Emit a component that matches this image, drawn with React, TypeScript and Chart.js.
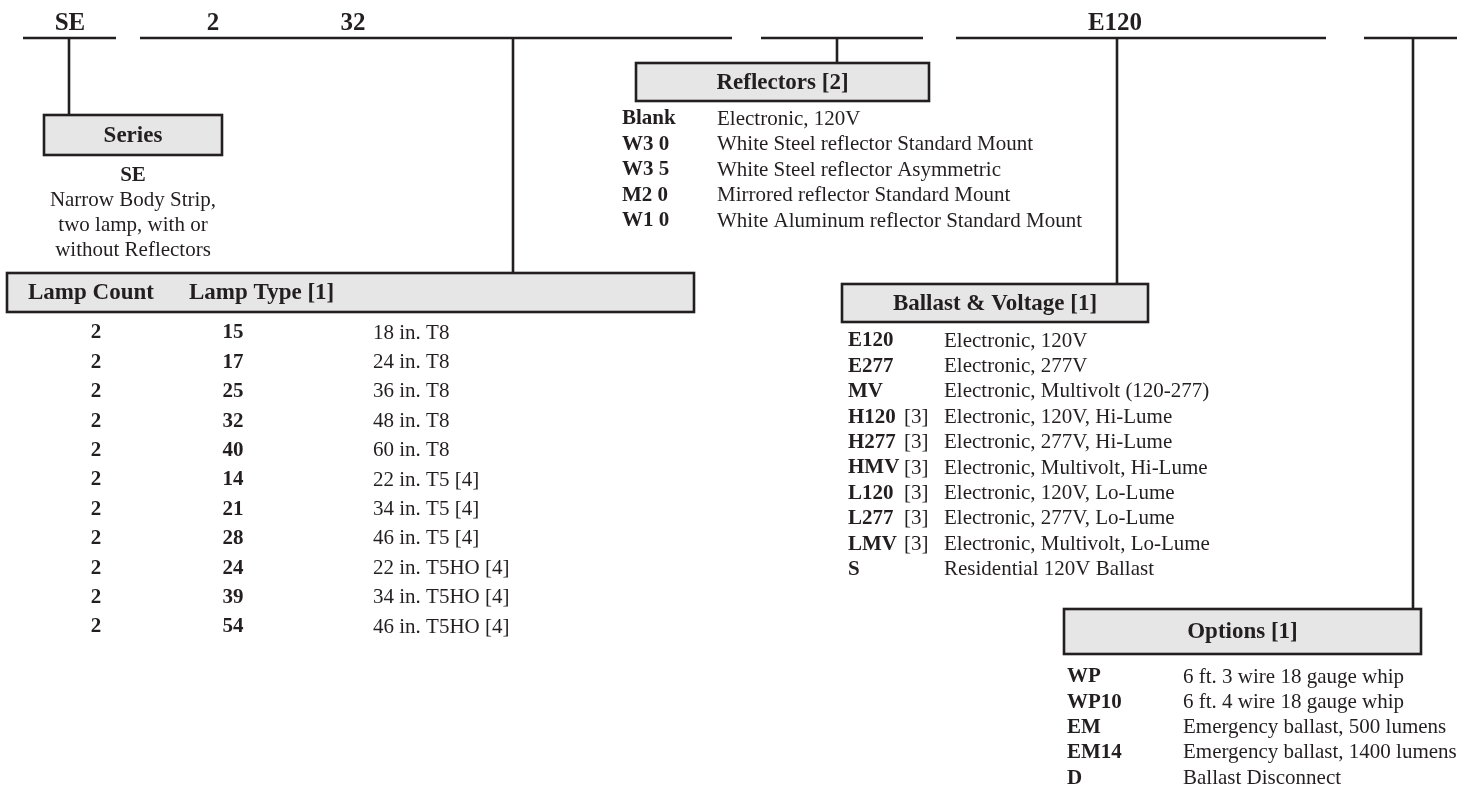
import React, { useEffect, useRef } from "react";
import { Chart, registerables } from "chart.js";

Chart.register(...registerables);

// ---------- content ----------
const topLabels = ["SE", "2", "32", "E120"];

const seriesTitle = "Series";
const seriesCode = "SE";
const seriesDescription = ["Narrow Body Strip,", "two lamp, with or", "without Reflectors"];

const lampHeaders = ["Lamp Count", "Lamp Type [1]"];
const lampCounts = ["2", "2", "2", "2", "2", "2", "2", "2", "2", "2", "2"];
const lampTypes = ["15", "17", "25", "32", "40", "14", "21", "28", "24", "39", "54"];
const lampDescriptions = [
  "18 in. T8",
  "24 in. T8",
  "36 in. T8",
  "48 in. T8",
  "60 in. T8",
  "22 in. T5 [4]",
  "34 in. T5 [4]",
  "46 in. T5 [4]",
  "22 in. T5HO [4]",
  "34 in. T5HO [4]",
  "46 in. T5HO [4]",
];

const reflectorTitle = "Reflectors [2]";
const reflectorCodes = ["Blank", "W3 0", "W3 5", "M2 0", "W1 0"];
const reflectorDescriptions = [
  "Electronic, 120V",
  "White Steel reflector Standard Mount",
  "White Steel reflector Asymmetric",
  "Mirrored reflector Standard Mount",
  "White Aluminum reflector Standard Mount",
];

const ballastTitle = "Ballast & Voltage [1]";
const ballastCodes = ["E120", "E277", "MV", "H120", "H277", "HMV", "L120", "L277", "LMV", "S"];
const ballastNotes = ["", "", "", "[3]", "[3]", "[3]", "[3]", "[3]", "[3]", ""];
const ballastDescriptions = [
  "Electronic, 120V",
  "Electronic, 277V",
  "Electronic, Multivolt (120-277)",
  "Electronic, 120V, Hi-Lume",
  "Electronic, 277V, Hi-Lume",
  "Electronic, Multivolt, Hi-Lume",
  "Electronic, 120V, Lo-Lume",
  "Electronic, 277V, Lo-Lume",
  "Electronic, Multivolt, Lo-Lume",
  "Residential 120V Ballast",
];

const optionsTitle = "Options [1]";
const optionCodes = ["WP", "WP10", "EM", "EM14", "D"];
const optionDescriptions = [
  "6 ft. 3 wire 18 gauge whip",
  "6 ft. 4 wire 18 gauge whip",
  "Emergency ballast, 500 lumens",
  "Emergency ballast, 1400 lumens",
  "Ballast Disconnect",
];

// ---------- layout (diagram space, 1465 x 785) ----------
const W = 1465;
const H = 785;
const INK = "#231f20";
const FILL = "#e6e6e6";
const FAMILY = '"Liberation Serif", "Times New Roman", serif';
const BODY = `21px ${FAMILY}`;
const BOLD = `bold 21px ${FAMILY}`;
const HEAD = `bold 23px ${FAMILY}`;
const TOP = `bold 25px ${FAMILY}`;

const layout = {
  topLineY: 38,
  topLabelY: 24,
  topLabelX: [70, 213, 353, 1115],
  segments: [
    [23, 116],
    [140, 732],
    [761, 923],
    [956, 1326],
    [1364, 1457],
  ],
  series: { box: [44, 115, 222, 155], connectorX: 69, cx: 133, codeY: 176, descY: 200, step: 25 },
  lamp: { box: [7, 273, 694, 312], connectorX: 513, headY: 293, headX: [28, 189], colX: [96, 233, 373], rowY: 333, step: 29.4 },
  reflector: { box: [636, 63, 929, 101], connectorX: 837, codeX: 622, descX: 717, rowY: 119, step: 25.5 },
  ballast: { box: [842, 284, 1148, 322], connectorX: 1117, codeX: 848, noteX: 904, descX: 944, rowY: 341, step: 25.4 },
  options: { box: [1064, 609, 1421, 654], connectorX: 1413, codeX: 1067, descX: 1183, rowY: 677, step: 25.3 },
};

const diagramPlugin = {
  id: "orderingDiagram",
  afterDraw(chart: any) {
    const ctx: CanvasRenderingContext2D = chart.ctx;
    const sx = chart.scales.x;
    const sy = chart.scales.y;
    const X = (v: number) => sx.getPixelForValue(v);
    const Y = (v: number) => sy.getPixelForValue(v);

    ctx.save();
    ctx.strokeStyle = INK;
    ctx.fillStyle = INK;
    ctx.lineCap = "butt";

    const line = (x1: number, y1: number, x2: number, y2: number, w = 2.6) => {
      ctx.beginPath();
      ctx.lineWidth = w;
      ctx.moveTo(X(x1), Y(y1));
      ctx.lineTo(X(x2), Y(y2));
      ctx.stroke();
    };
    const box = (b: number[]) => {
      const [x1, y1, x2, y2] = b;
      ctx.fillStyle = FILL;
      ctx.fillRect(X(x1), Y(y1), X(x2) - X(x1), Y(y2) - Y(y1));
      ctx.lineWidth = 2.6;
      ctx.strokeStyle = INK;
      ctx.strokeRect(X(x1), Y(y1), X(x2) - X(x1), Y(y2) - Y(y1));
      ctx.fillStyle = INK;
    };
    const text = (s: string, x: number, y: number, font: string, align: CanvasTextAlign = "left") => {
      ctx.font = font;
      ctx.textAlign = align;
      ctx.textBaseline = "middle";
      ctx.fillStyle = INK;
      ctx.fillText(s, X(x), Y(y));
    };

    // top code line
    layout.segments.forEach(([a, b]) => line(a, layout.topLineY, b, layout.topLineY));
    topLabels.forEach((t, i) => text(t, layout.topLabelX[i], layout.topLabelY, TOP, "center"));

    // connectors
    const s = layout.series, l = layout.lamp, r = layout.reflector, bl = layout.ballast, o = layout.options;
    line(s.connectorX, layout.topLineY, s.connectorX, s.box[1]);
    line(l.connectorX, layout.topLineY, l.connectorX, l.box[1]);
    line(r.connectorX, layout.topLineY, r.connectorX, r.box[1]);
    line(bl.connectorX, layout.topLineY, bl.connectorX, bl.box[1]);
    line(o.connectorX, layout.topLineY, o.connectorX, o.box[1]);

    // series
    box(s.box);
    text(seriesTitle, (s.box[0] + s.box[2]) / 2, (s.box[1] + s.box[3]) / 2 + 1, HEAD, "center");
    text(seriesCode, s.cx, s.codeY, BOLD, "center");
    seriesDescription.forEach((d, i) => text(d, s.cx, s.descY + i * s.step, BODY, "center"));

    // lamp table
    box(l.box);
    lampHeaders.forEach((h, i) => text(h, l.headX[i], l.headY, HEAD, "left"));
    lampCounts.forEach((c, i) => {
      const y = l.rowY + i * l.step;
      text(c, l.colX[0], y, BOLD, "center");
      text(lampTypes[i], l.colX[1], y, BOLD, "center");
      text(lampDescriptions[i], l.colX[2], y, BODY, "left");
    });

    // reflectors
    box(r.box);
    text(reflectorTitle, (r.box[0] + r.box[2]) / 2, (r.box[1] + r.box[3]) / 2 + 1, HEAD, "center");
    reflectorCodes.forEach((c, i) => {
      const y = r.rowY + i * r.step;
      text(c, r.codeX, y, BOLD);
      text(reflectorDescriptions[i], r.descX, y, BODY);
    });

    // ballast
    box(bl.box);
    text(ballastTitle, (bl.box[0] + bl.box[2]) / 2, (bl.box[1] + bl.box[3]) / 2 + 1, HEAD, "center");
    ballastCodes.forEach((c, i) => {
      const y = bl.rowY + i * bl.step;
      text(c, bl.codeX, y, BOLD);
      if (ballastNotes[i]) text(ballastNotes[i], bl.noteX, y, BODY);
      text(ballastDescriptions[i], bl.descX, y, BODY);
    });

    // options
    box(o.box);
    text(optionsTitle, (o.box[0] + o.box[2]) / 2, (o.box[1] + o.box[3]) / 2 + 1, HEAD, "center");
    optionCodes.forEach((c, i) => {
      const y = o.rowY + i * o.step;
      text(c, o.codeX, y, BOLD);
      text(optionDescriptions[i], o.descX, y, BODY);
    });

    ctx.restore();
  },
};

export default function App() {
  const ref = useRef<HTMLCanvasElement | null>(null);

  useEffect(() => {
    if (!ref.current) return;
    const chart = new Chart(ref.current, {
      type: "scatter",
      data: { datasets: [] },
      options: {
        responsive: false,
        animation: false,
        devicePixelRatio: 1,
        layout: { padding: 0 },
        plugins: { legend: { display: false }, tooltip: { enabled: false }, title: { display: false } },
        scales: {
          x: { type: "linear", min: 0, max: W, display: false },
          y: { type: "linear", min: 0, max: H, reverse: true, display: false },
        },
      },
      plugins: [diagramPlugin],
    });
    return () => chart.destroy();
  }, []);

  return (
    <div style={{ position: "fixed", left: 0, top: 0, width: W, height: H, background: "#ffffff" }}>
      <canvas ref={ref} width={W} height={H} style={{ width: W, height: H, display: "block" }} />
    </div>
  );
}
